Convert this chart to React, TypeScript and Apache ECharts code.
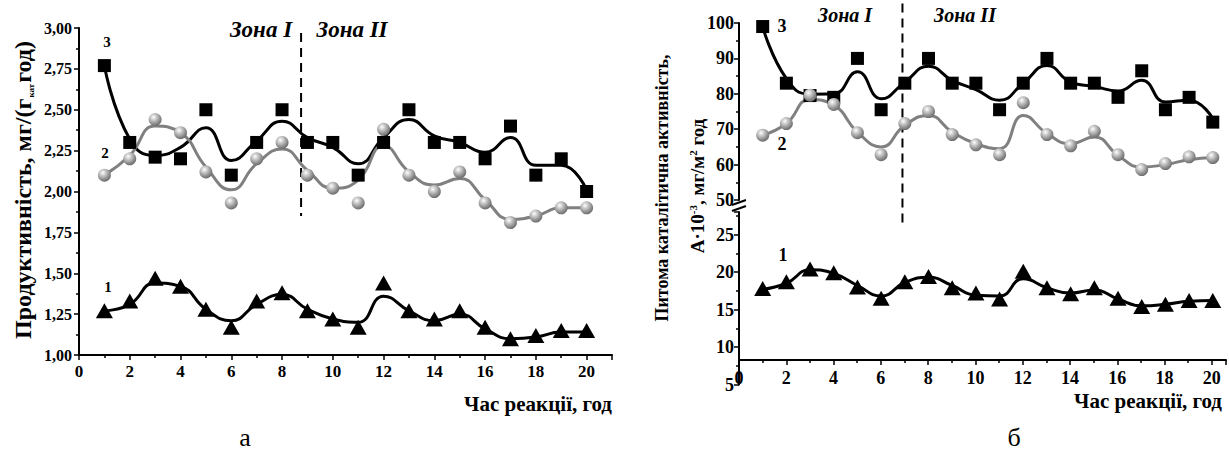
import React, { useEffect, useRef } from 'react';
import * as echarts from 'echarts';

// ---------- data ----------
const hours = [1, 2, 3, 4, 5, 6, 7, 8, 9, 10, 11, 12, 13, 14, 15, 16, 17, 18, 19, 20];

// Panel (а): productivity, mg/(g_cat·h)
const prod3 = [2.77, 2.30, 2.21, 2.20, 2.50, 2.10, 2.30, 2.50, 2.30, 2.30, 2.10, 2.30, 2.50, 2.30, 2.30, 2.20, 2.40, 2.10, 2.20, 2.00];
const prod2 = [2.10, 2.20, 2.44, 2.36, 2.12, 1.93, 2.20, 2.30, 2.10, 2.02, 1.93, 2.38, 2.10, 2.00, 2.12, 1.93, 1.81, 1.85, 1.90, 1.90];
const prod1 = [1.27, 1.33, 1.47, 1.42, 1.28, 1.17, 1.33, 1.38, 1.27, 1.22, 1.17, 1.44, 1.27, 1.22, 1.27, 1.17, 1.10, 1.12, 1.15, 1.15];
// fitted curves
const prodFit3 = [2.77, 2.32, 2.22, 2.27, 2.39, 2.19, 2.31, 2.43, 2.33, 2.27, 2.17, 2.33, 2.44, 2.34, 2.30, 2.24, 2.33, 2.16, 2.16, 2.01];
const prodFit2 = [2.10, 2.22, 2.40, 2.36, 2.15, 2.01, 2.17, 2.26, 2.13, 2.02, 2.07, 2.28, 2.12, 2.04, 2.08, 1.95, 1.83, 1.85, 1.90, 1.90];
const prodFit1 = [1.27, 1.31, 1.44, 1.42, 1.28, 1.21, 1.31, 1.37, 1.28, 1.22, 1.20, 1.36, 1.27, 1.21, 1.25, 1.16, 1.10, 1.11, 1.14, 1.14];

// Panel (б): specific catalytic activity, A·10^-3 mg/m² h
const act3 = [99, 83, 79.5, 79, 90, 75.5, 83, 90, 83, 83, 75.5, 83, 90, 83, 83, 79, 86.5, 75.5, 79, 72];
const act2 = [68.3, 71.6, 79.6, 77, 69, 62.8, 71.6, 75, 68.5, 65.6, 62.8, 77.5, 68.5, 65.3, 69.4, 62.8, 58.6, 60.3, 62.2, 62];
const act1 = [17.8, 18.7, 20.4, 19.9, 18, 16.5, 18.7, 19.4, 17.9, 17.2, 16.4, 20.1, 17.9, 17.1, 17.9, 16.5, 15.4, 15.7, 16.2, 16.2];
const actFit3 = [99, 84.3, 79.9, 80, 86.2, 78.6, 83.3, 87.8, 83.8, 81.2, 78.2, 83, 88, 83.3, 82.1, 80.8, 83.8, 77.7, 78.2, 73];
const actFit2 = [68.3, 71.6, 78.4, 76.8, 69.2, 65, 71.1, 73.9, 69.2, 65.9, 64.5, 73.9, 68.8, 65.9, 67.8, 62.6, 59.3, 60, 61.4, 62];
const actFit1 = [17.7, 18.5, 20.3, 19.8, 18.2, 16.8, 18.6, 19.3, 18.2, 16.9, 16.8, 19.1, 17.9, 17.2, 17.6, 16.4, 15.5, 15.7, 16.1, 16.2];

// zone boundaries (hours)
const zoneBoundaryA = 8.75;
const zoneBoundaryB = 6.9;

const FONT = "'Times New Roman', 'Liberation Serif', 'DejaVu Serif', serif";

const pairs = (vals: number[]) => hours.map((h, i) => [h, vals[i]]);

const sphereColor = () =>
  new echarts.graphic.RadialGradient(0.38, 0.32, 0.68, [
    { offset: 0, color: '#ffffff' },
    { offset: 0.3, color: '#cfcfcf' },
    { offset: 0.75, color: '#8e8e8e' },
    { offset: 1, color: '#6e6e6e' },
  ]);

function fitLine(xi: number, yi: number, vals: number[], color: string) {
  return {
    type: 'line',
    xAxisIndex: xi,
    yAxisIndex: yi,
    data: pairs(vals),
    smooth: 0.5,
    showSymbol: false,
    symbol: 'none',
    lineStyle: { color, width: 3 },
    z: 2,
    silent: true,
  };
}

function marks(xi: number, yi: number, vals: number[], kind: 'sq' | 'sph' | 'tri') {
  const base: any = {
    type: 'scatter',
    xAxisIndex: xi,
    yAxisIndex: yi,
    data: pairs(vals),
    z: 3,
    silent: true,
  };
  if (kind === 'sq') {
    base.symbol = 'rect';
    base.symbolSize = 13;
    base.itemStyle = { color: '#000', opacity: 1 };
  } else if (kind === 'sph') {
    base.symbol = 'circle';
    base.symbolSize = 13;
    base.itemStyle = { color: sphereColor(), opacity: 1 };
  } else {
    base.symbol = 'triangle';
    base.symbolSize = [17, 15];
    base.itemStyle = { color: '#000', opacity: 1 };
  }
  return base;
}

const axisLine = { show: true, onZero: false, lineStyle: { color: '#000', width: 2 } };
const axisTick = { show: true, inside: false, length: 5, lineStyle: { color: '#000', width: 1.5 } };
const minorTick = { show: true, splitNumber: 2, length: 3, lineStyle: { color: '#000', width: 1.5 } };
const labelStyle = (size: number, margin: number) => ({
  fontFamily: FONT,
  fontWeight: 'bold',
  fontSize: size,
  color: '#000',
  margin,
});

export default function App() {
  const ref = useRef<HTMLDivElement>(null);

  useEffect(() => {
    document.body.style.margin = '0';
    if (!ref.current) return;
    const chart = echarts.init(ref.current, undefined, { renderer: 'svg' });

    const option: any = {
      animation: false,
      backgroundColor: '#fff',
      textStyle: { fontFamily: FONT },
      grid: [
        { left: 79, top: 28, width: 533, height: 327 },
        { left: 739, top: 23, width: 488, height: 177 },
        { left: 739, top: 212, width: 488, height: 172.5 },
        { left: 739, top: 212, width: 488, height: 148 },
      ],
      xAxis: [
        {
          type: 'value', gridIndex: 0, min: 0, max: 21, interval: 2,
          axisLine, axisTick, minorTick, splitLine: { show: false },
          axisLabel: { ...labelStyle(17, 8), formatter: (v: number) => (v % 2 === 0 && v <= 20 ? String(v) : '') },
        },
        { type: 'value', gridIndex: 1, min: 0, max: 20.6, show: false },
        { type: 'value', gridIndex: 2, min: 0, max: 20.6, show: false },
        {
          type: 'value', gridIndex: 3, min: 0, max: 20.6, interval: 2,
          axisLine, axisTick, minorTick, splitLine: { show: false },
          axisLabel: { ...labelStyle(18, 9), formatter: (v: number) => (v % 2 === 0 && v <= 20 ? String(v) : '') },
        },
      ],
      yAxis: [
        {
          type: 'value', gridIndex: 0, min: 1, max: 3, interval: 0.25,
          axisLine, axisTick, minorTick, splitLine: { show: false },
          axisLabel: { ...labelStyle(16, 7), formatter: (v: number) => v.toFixed(2).replace('.', ',') },
        },
        {
          type: 'value', gridIndex: 1, min: 50, max: 100, interval: 10,
          axisLine, axisTick, minorTick, splitLine: { show: false },
          axisLabel: { ...labelStyle(18, 5), formatter: (v: number) => String(v) },
        },
        {
          type: 'value', gridIndex: 2, min: 5, max: 28, interval: 5,
          axisLine, axisTick, minorTick, splitLine: { show: false },
          axisLabel: { ...labelStyle(18, 5), formatter: (v: number) => (v % 5 === 0 ? String(v) : '') },
        },
        { type: 'value', gridIndex: 3, min: 0, max: 1, show: false },
      ],
      series: [
        fitLine(0, 0, prodFit3, '#000'),
        fitLine(0, 0, prodFit2, '#808080'),
        fitLine(0, 0, prodFit1, '#000'),
        marks(0, 0, prod3, 'sq'),
        marks(0, 0, prod2, 'sph'),
        marks(0, 0, prod1, 'tri'),
        fitLine(1, 1, actFit3, '#000'),
        fitLine(1, 1, actFit2, '#808080'),
        fitLine(2, 2, actFit1, '#000'),
        marks(1, 1, act3, 'sq'),
        marks(1, 1, act2, 'sph'),
        marks(2, 2, act1, 'tri'),
      ],
    };
    chart.setOption(option);

    // positions derived from the library's scales
    const pA1 = chart.convertToPixel({ gridIndex: 0 }, [zoneBoundaryA, 2.97]) as number[];
    const pA2 = chart.convertToPixel({ gridIndex: 0 }, [zoneBoundaryA, 1.85]) as number[];
    const pB1 = chart.convertToPixel({ gridIndex: 1 }, [zoneBoundaryB, 105.5]) as number[];
    const pB2 = chart.convertToPixel({ gridIndex: 2 }, [zoneBoundaryB, 26.3]) as number[];

    const txt = (x: number, y: number, text: string, size: number, extra: any = {}) => ({
      type: 'text',
      x,
      y,
      silent: true,
      style: {
        text,
        fontFamily: FONT,
        fontSize: size,
        fontWeight: 'bold',
        fill: '#000',
        align: 'center',
        verticalAlign: 'middle',
        ...extra,
      },
    });

    const dash = { stroke: '#000', lineWidth: 2, lineDash: [9, 6] };

    chart.setOption({
      graphic: [
        { type: 'line', silent: true, shape: { x1: pA1[0], y1: pA1[1], x2: pA2[0], y2: pA2[1] }, style: dash },
        { type: 'line', silent: true, shape: { x1: pB1[0], y1: pB1[1], x2: pB2[0], y2: pB2[1] }, style: dash },
        // axis break marks
        { type: 'rect', silent: true, shape: { x: 736, y: 201, width: 6, height: 10 }, style: { fill: '#fff' } },
        { type: 'line', silent: true, shape: { x1: 732, y1: 205, x2: 746, y2: 200 }, style: { stroke: '#000', lineWidth: 2 } },
        { type: 'line', silent: true, shape: { x1: 732, y1: 211, x2: 746, y2: 206 }, style: { stroke: '#000', lineWidth: 2 } },
        // zone labels
        txt(261, 29, 'Зона I', 23, { fontStyle: 'italic' }),
        txt(352, 29, 'Зона II', 23, { fontStyle: 'italic' }),
        txt(845, 15, 'Зона I', 20, { fontStyle: 'italic' }),
        txt(965, 15, 'Зона II', 20, { fontStyle: 'italic' }),
        // curve numbers
        txt(107, 42, '3', 15),
        txt(105, 153, '2', 15),
        txt(108, 287, '1', 15),
        txt(782, 26, '3', 18),
        txt(782, 144, '2', 18),
        txt(783, 255, '1', 18),
        // x axis titles
        txt(612, 404, 'Час реакції, год', 21, { align: 'right' }),
        txt(1222, 401, 'Час реакції, год', 21, { align: 'right' }),
        // panel captions
        { type: 'text', x: 245, y: 437, silent: true, style: { text: 'а', fontFamily: FONT, fontSize: 26, fill: '#000', align: 'center', verticalAlign: 'middle' } },
        { type: 'text', x: 1014, y: 437, silent: true, style: { text: 'б', fontFamily: FONT, fontSize: 26, fill: '#000', align: 'center', verticalAlign: 'middle' } },
        // y axis titles
        {
          type: 'text', x: 23, y: 190, rotation: Math.PI / 2, silent: true,
          style: {
            text: 'Продуктивність, мг/(г{sub|кат}год)',
            fontFamily: FONT, fontSize: 24, fontWeight: 'bold', fill: '#000',
            align: 'center', verticalAlign: 'middle',
            rich: { sub: { fontFamily: FONT, fontSize: 9, fontWeight: 'bold', fill: '#000', verticalAlign: 'bottom', padding: [0, 1, 0, 1] } },
          },
        },
        {
          type: 'text', x: 662, y: 188, rotation: Math.PI / 2, silent: true,
          style: {
            text: 'Питома каталітична активність,',
            fontFamily: FONT, fontSize: 18, fontWeight: 'bold', fill: '#000',
            align: 'center', verticalAlign: 'middle',
          },
        },
        {
          type: 'text', x: 697, y: 186, rotation: Math.PI / 2, silent: true,
          style: {
            text: 'А·10{sup|-3}, мг/м{sup|2} год',
            fontFamily: FONT, fontSize: 19, fontWeight: 'bold', fill: '#000',
            align: 'center', verticalAlign: 'middle',
            rich: { sup: { fontFamily: FONT, fontSize: 11, fontWeight: 'bold', fill: '#000', verticalAlign: 'top' } },
          },
        },
      ],
    });

    return () => chart.dispose();
  }, []);

  return <div ref={ref} style={{ width: 1229, height: 455 }} />;
}
